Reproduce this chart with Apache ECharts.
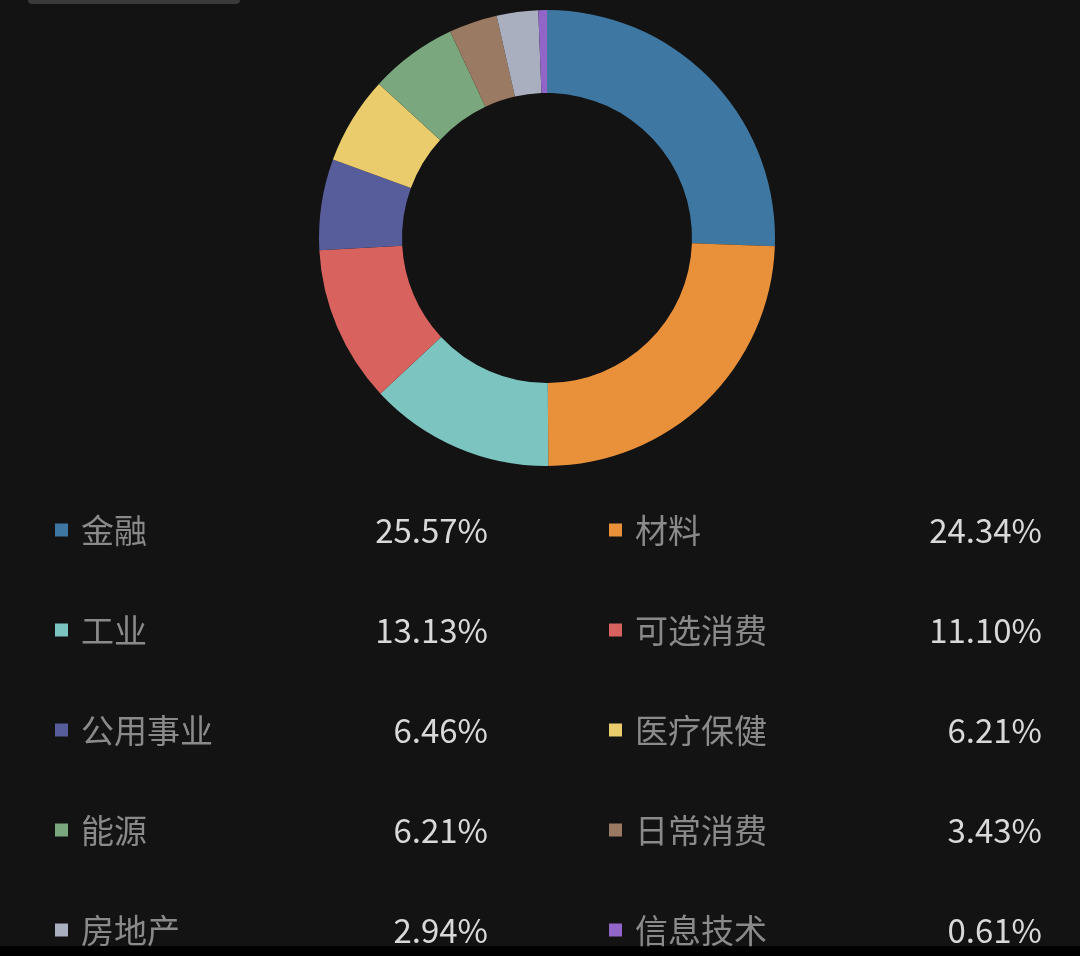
<!DOCTYPE html>
<html>
<head>
<meta charset="utf-8">
<title>行业分布</title>
<script src="https://cdn.jsdelivr.net/npm/echarts@6/dist/echarts.min.js"></script>
<style>
  html, body { margin: 0; padding: 0; background: #131313; }
  #main { width: 1080px; height: 956px; }
</style>
</head>
<body>
<div id="main"></div>
<script>
// 行业名称
const categories = ['金融', '材料', '工业', '可选消费', '公用事业', '医疗保健', '能源', '日常消费', '房地产', '信息技术'];
// 占比（%）
const values = [25.57, 24.34, 13.13, 11.10, 6.46, 6.21, 6.21, 3.43, 2.94, 0.61];
const colors = ['#3e77a2', '#e8903a', '#7cc4c0', '#d8635e', '#575d9a', '#ebcc6c', '#7aa77e', '#9a7a62', '#a9afbe', '#9266c8'];

let data = [];
categories.forEach((name, i) => {
    data.push({ name: name, value: values[i] });
});

// 左右两列图例
const leftNames = categories.filter((n, i) => i % 2 === 0);
const rightNames = categories.filter((n, i) => i % 2 === 1);

function fmt(name) {
    let idx = categories.indexOf(name);
    return '{n|' + name + '}{v|' + values[idx].toFixed(2) + '%}';
}

const rich = {
    n: {
        width: 275,
        padding: [0, 0, 0, 8],
        fontSize: 33,
        color: '#8a8a8a',
        fontFamily: 'Noto Sans CJK SC'
    },
    v: {
        width: 132,
        align: 'right',
        fontSize: 33,
        color: '#d9d9d9',
        fontFamily: 'Noto Sans CJK SC'
    }
};

function legendAt(left, names) {
    return {
        orient: 'vertical',
        left: left,
        top: 511,
        padding: 0,
        icon: 'rect',
        itemWidth: 13,
        itemHeight: 13,
        itemGap: 62,
        selectedMode: false,
        data: names,
        formatter: fmt,
        textStyle: { rich: rich, lineHeight: 38 }
    };
}

const chart = echarts.init(document.getElementById('main'), null, { renderer: 'canvas' });
let option = {
    backgroundColor: '#131313',
    color: colors,
    animation: false,
    legend: [legendAt(55, leftNames), legendAt(609, rightNames)],
    graphic: [
        { type: 'rect', left: 28, top: -6, shape: { width: 212, height: 10, r: 4 }, style: { fill: '#3a3a3a' } },
        { type: 'rect', left: 0, top: 946, shape: { width: 1080, height: 10 }, style: { fill: '#000' } }
    ],
    series: [
        {
            type: 'pie',
            center: [547, 238],
            radius: [145, 228],
            startAngle: 90,
            clockwise: true,
            label: { show: false },
            labelLine: { show: false },
            itemStyle: { borderWidth: 0 },
            emphasis: { disabled: true },
            data: data
        }
    ]
};
chart.setOption(option);
</script>
</body>
</html>
